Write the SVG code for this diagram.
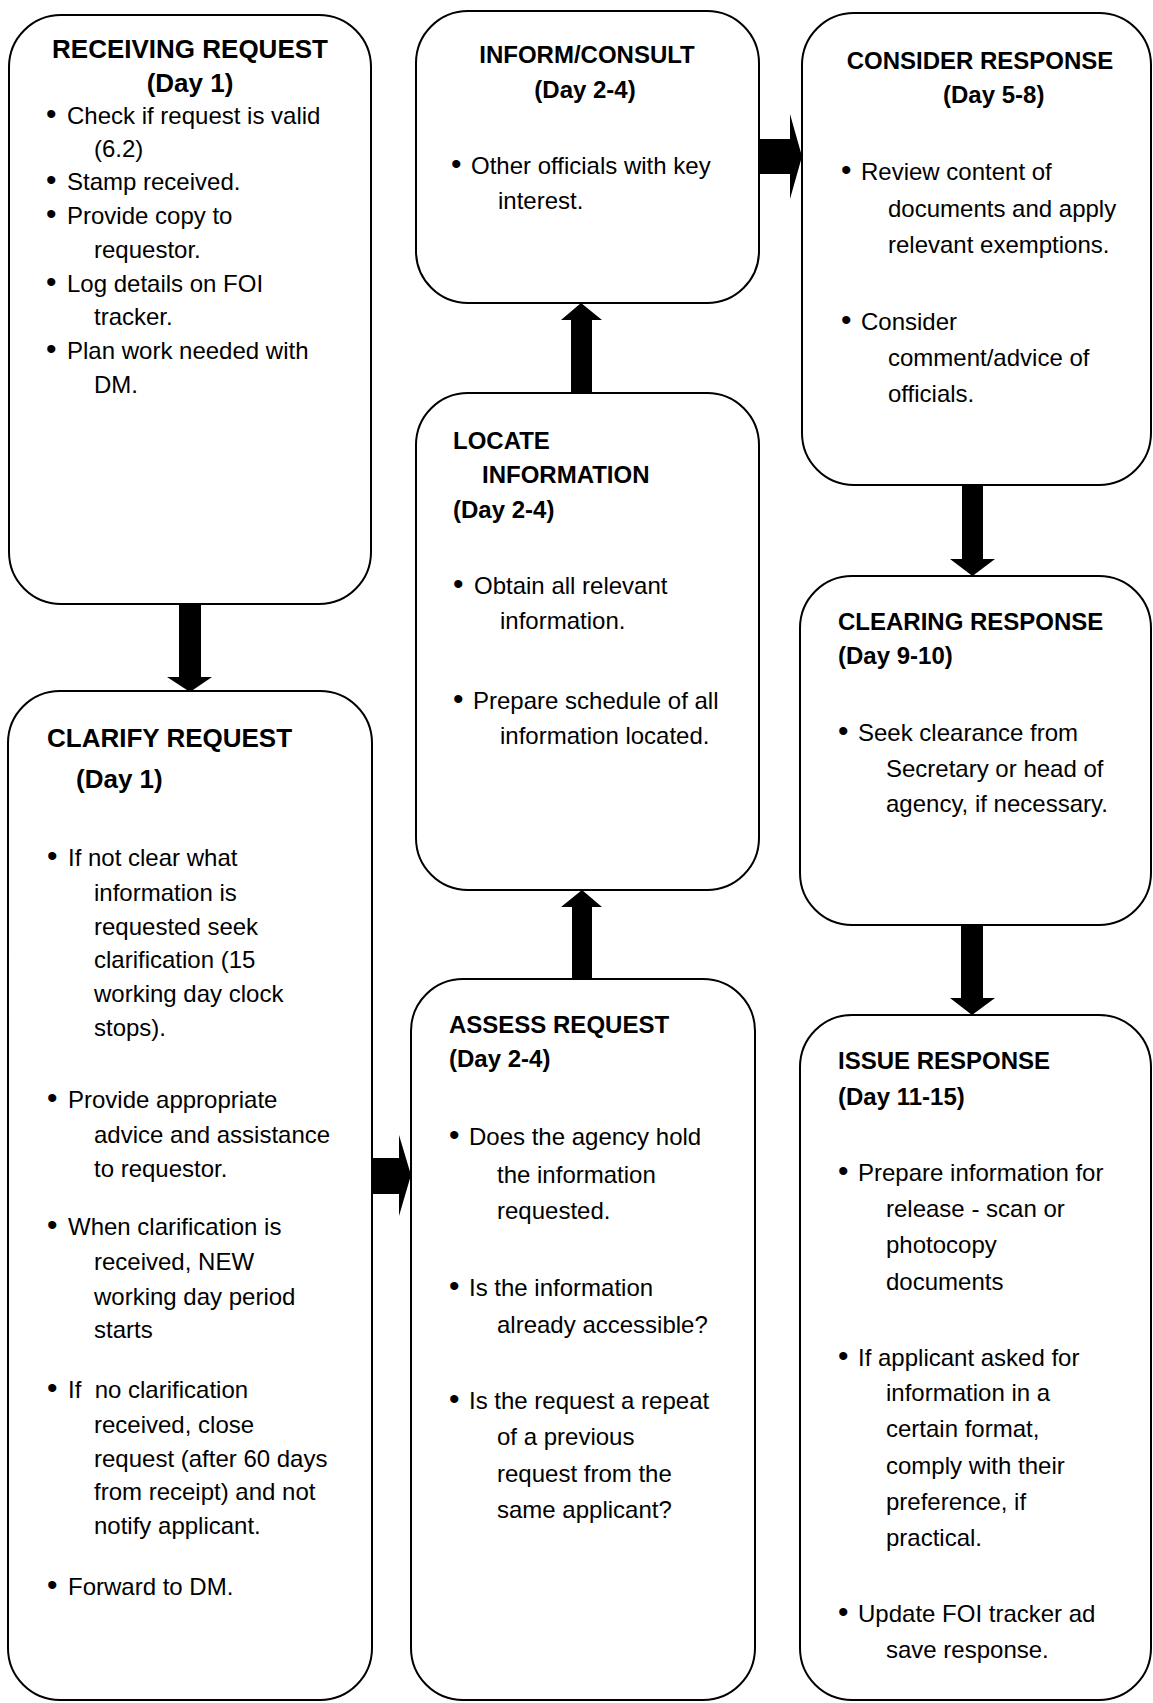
<svg xmlns="http://www.w3.org/2000/svg" width="1153" height="1703" viewBox="0 0 1153 1703">
<style>
.box{fill:#fff;stroke:#000;stroke-width:2}
.t{font-family:"Liberation Sans",Arial,sans-serif;font-size:24px;font-weight:bold;fill:#000}
.tl{font-size:26px}
.b{font-family:"Liberation Sans",Arial,sans-serif;font-size:24px;fill:#000;white-space:pre}
.d{font-size:30px}
.arr{fill:#000;stroke:none}
</style>
<rect width="1153" height="1703" fill="#fff"/>

<g id="connectors">
<polygon class="arr" points="179,604 201,604 201,677 212,677 190,692 167,677 179,677"/>
<polygon class="arr" points="372,1158 399,1158 399,1135 411,1175 399,1216 399,1194 372,1194"/>
<polygon class="arr" points="572,979 592,979 592,907 602,907 582,890 561,907 572,907"/>
<polygon class="arr" points="571,393 592,393 592,320 602,320 581,303 561,320 571,320"/>
<polygon class="arr" points="759,139 790,139 790,114 802,156.5 790,199 790,174 759,174"/>
<polygon class="arr" points="962,485 983,485 983,559 995,559 972.5,576 950,559 962,559"/>
<polygon class="arr" points="961,925 983,925 983,998 995,998 972,1015 950,998 961,998"/>
</g>

<g id="receiving">
<rect class="box" x="9" y="15" width="362" height="589" rx="52" ry="52"/>
<text class="t tl" x="190" y="58" text-anchor="middle">RECEIVING REQUEST</text>
<text class="t tl" x="190" y="92" text-anchor="middle">(Day 1)</text>
<text class="b" y="124"><tspan class="d" x="46">•</tspan><tspan x="67">Check if request is valid</tspan></text>
<text class="b" x="94" y="157">(6.2)</text>
<text class="b" y="190"><tspan class="d" x="46">•</tspan><tspan x="67">Stamp received.</tspan></text>
<text class="b" y="224"><tspan class="d" x="46">•</tspan><tspan x="67">Provide copy to</tspan></text>
<text class="b" x="94" y="258">requestor.</text>
<text class="b" y="292"><tspan class="d" x="46">•</tspan><tspan x="67">Log details on FOI</tspan></text>
<text class="b" x="94" y="325">tracker.</text>
<text class="b" y="359"><tspan class="d" x="46">•</tspan><tspan x="67">Plan work needed with</tspan></text>
<text class="b" x="94" y="393">DM.</text>
</g>

<g id="clarify">
<rect class="box" x="8" y="691" width="364" height="1009" rx="52" ry="52"/>
<text class="t tl" x="47" y="747">CLARIFY REQUEST</text>
<text class="t tl" x="76" y="788">(Day 1)</text>
<text class="b" y="866"><tspan class="d" x="47">•</tspan><tspan x="68">If not clear what</tspan></text>
<text class="b" x="94" y="901">information is</text>
<text class="b" x="94" y="935">requested seek</text>
<text class="b" x="94" y="968">clarification (15</text>
<text class="b" x="94" y="1002">working day clock</text>
<text class="b" x="94" y="1036">stops).</text>
<text class="b" y="1108"><tspan class="d" x="47">•</tspan><tspan x="68">Provide appropriate</tspan></text>
<text class="b" x="94" y="1143">advice and assistance</text>
<text class="b" x="94" y="1177">to requestor.</text>
<text class="b" y="1235"><tspan class="d" x="47">•</tspan><tspan x="68">When clarification is</tspan></text>
<text class="b" x="94" y="1270">received, NEW</text>
<text class="b" x="94" y="1305">working day period</text>
<text class="b" x="94" y="1338">starts</text>
<text class="b" y="1398"><tspan class="d" x="47">•</tspan><tspan x="68">If  no clarification</tspan></text>
<text class="b" x="94" y="1433">received, close</text>
<text class="b" x="94" y="1467">request (after 60 days</text>
<text class="b" x="94" y="1500">from receipt) and not</text>
<text class="b" x="94" y="1534">notify applicant.</text>
<text class="b" y="1595"><tspan class="d" x="47">•</tspan><tspan x="68">Forward to DM.</tspan></text>
</g>

<g id="inform">
<rect class="box" x="416" y="11" width="343" height="292" rx="52" ry="52"/>
<text class="t" x="587" y="63" text-anchor="middle">INFORM/CONSULT</text>
<text class="t" x="585" y="98" text-anchor="middle">(Day 2-4)</text>
<text class="b" y="174"><tspan class="d" x="451">•</tspan><tspan x="471">Other officials with key</tspan></text>
<text class="b" x="498" y="209">interest.</text>
</g>

<g id="locate">
<rect class="box" x="416" y="393" width="343" height="497" rx="52" ry="52"/>
<text class="t" x="453" y="449">LOCATE</text>
<text class="t" x="482" y="483">INFORMATION</text>
<text class="t" x="453" y="518">(Day 2-4)</text>
<text class="b" y="594"><tspan class="d" x="453">•</tspan><tspan x="474">Obtain all relevant</tspan></text>
<text class="b" x="500" y="629">information.</text>
<text class="b" y="709"><tspan class="d" x="453">•</tspan><tspan x="473">Prepare schedule of all</tspan></text>
<text class="b" x="500" y="744">information located.</text>
</g>

<g id="assess">
<rect class="box" x="411" y="979" width="344" height="721" rx="52" ry="52"/>
<text class="t" x="449" y="1033">ASSESS REQUEST</text>
<text class="t" x="449" y="1067">(Day 2-4)</text>
<text class="b" y="1145"><tspan class="d" x="449">•</tspan><tspan x="469">Does the agency hold</tspan></text>
<text class="b" x="497" y="1183">the information</text>
<text class="b" x="497" y="1219">requested.</text>
<text class="b" y="1296"><tspan class="d" x="449">•</tspan><tspan x="469">Is the information</tspan></text>
<text class="b" x="497" y="1333">already accessible?</text>
<text class="b" y="1409"><tspan class="d" x="449">•</tspan><tspan x="469">Is the request a repeat</tspan></text>
<text class="b" x="497" y="1445">of a previous</text>
<text class="b" x="497" y="1482">request from the</text>
<text class="b" x="497" y="1518">same applicant?</text>
</g>

<g id="consider">
<rect class="box" x="802" y="13" width="349" height="472" rx="52" ry="52"/>
<text class="t" x="980" y="69" text-anchor="middle">CONSIDER RESPONSE</text>
<text class="t" x="943" y="103">(Day 5-8)</text>
<text class="b" y="180"><tspan class="d" x="841">•</tspan><tspan x="861">Review content of</tspan></text>
<text class="b" x="888" y="217">documents and apply</text>
<text class="b" x="888" y="253">relevant exemptions.</text>
<text class="b" y="330"><tspan class="d" x="841">•</tspan><tspan x="861">Consider</tspan></text>
<text class="b" x="888" y="366">comment/advice of</text>
<text class="b" x="888" y="402">officials.</text>
</g>

<g id="clearing">
<rect class="box" x="800" y="576" width="351" height="349" rx="52" ry="52"/>
<text class="t" x="838" y="630">CLEARING RESPONSE</text>
<text class="t" x="838" y="664">(Day 9-10)</text>
<text class="b" y="741"><tspan class="d" x="838">•</tspan><tspan x="858">Seek clearance from</tspan></text>
<text class="b" x="886" y="777">Secretary or head of</text>
<text class="b" x="886" y="812">agency, if necessary.</text>
</g>

<g id="issue">
<rect class="box" x="800" y="1015" width="351" height="685" rx="52" ry="52"/>
<text class="t" x="838" y="1069">ISSUE RESPONSE</text>
<text class="t" x="838" y="1105">(Day 11-15)</text>
<text class="b" y="1181"><tspan class="d" x="838">•</tspan><tspan x="858">Prepare information for</tspan></text>
<text class="b" x="886" y="1217">release - scan or</text>
<text class="b" x="886" y="1253">photocopy</text>
<text class="b" x="886" y="1290">documents</text>
<text class="b" y="1366"><tspan class="d" x="838">•</tspan><tspan x="858">If applicant asked for</tspan></text>
<text class="b" x="886" y="1401">information in a</text>
<text class="b" x="886" y="1437">certain format,</text>
<text class="b" x="886" y="1474">comply with their</text>
<text class="b" x="886" y="1510">preference, if</text>
<text class="b" x="886" y="1546">practical.</text>
<text class="b" y="1622"><tspan class="d" x="838">•</tspan><tspan x="858">Update FOI tracker ad</tspan></text>
<text class="b" x="886" y="1658">save response.</text>
</g>
</svg>
